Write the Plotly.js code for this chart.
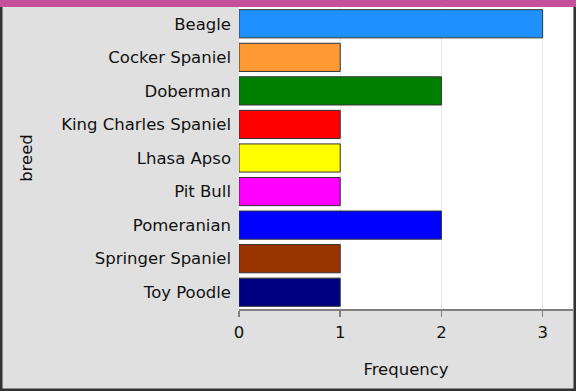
<!DOCTYPE html>
<html><head><meta charset="utf-8">
<script src="https://cdn.plot.ly/plotly-3.0.1.min.js"></script>
<style>html,body{margin:0;padding:0;background:#e0e0e0;}#chart{width:576px;height:391px;}</style>
</head><body><div id="chart"></div>
<script>
const breeds = ["Beagle","Cocker Spaniel","Doberman","King Charles Spaniel","Lhasa Apso","Pit Bull","Pomeranian","Springer Spaniel","Toy Poodle"];
const frequency = [3,1,2,1,1,1,2,1,1];
const barColors = ["#1E90FF","#FF9933","#008000","#FF0000","#FFFF00","#FF00FF","#0000FF","#993300","#000080"];
const xTicks = [0,1,2,3];

const trace = {
  type: "bar", orientation: "h",
  x: frequency, y: breeds,
  width: 0.84,
  marker: {color: barColors, line: {color: "#333333", width: 1}},
  hoverinfo: "none"
};
const layout = {
  width: 576, height: 391,
  margin: {l: 239, r: 3, t: 7, b: 82},
  paper_bgcolor: "#e0e0e0", plot_bgcolor: "#ffffff",
  font: {family: "DejaVu Sans", size: 16.5, color: "#111111"},
  showlegend: false,
  xaxis: {
    range: [0, 3.3], tickvals: xTicks, ticktext: xTicks.map(String),
    ticks: "outside", ticklen: 6, tickcolor: "#808080", tickwidth: 1.5,
    showline: true, linecolor: "#808080", linewidth: 1.5,
    showgrid: true, gridcolor: "#e6e6e6", gridwidth: 1, zeroline: false,
    ticklabelstandoff: 2,
    tickfont: {size: 16.5},
    title: {text: "Frequency", font: {size: 16.5}, standoff: 22}
  },
  yaxis: {
    autorange: false, range: [8.5, -0.5], type: "category",
    showgrid: false, zeroline: false, showline: false, ticks: "",
    ticklabelstandoff: 7,
    tickfont: {size: 16.5},
    title: {text: "breed", font: {size: 16.5}, standoff: 24}
  },
  shapes: [
    {type: "rect", xref: "paper", yref: "paper", x0: -239/334, x1: 1 + 3/334, y0: 1, y1: 1 + 7/302, fillcolor: "#C4509C", line: {width: 0}, layer: "above"},
    {type: "line", xref: "paper", yref: "paper", x0: -238/334, x1: -238/334, y0: -82/302, y1: 1, line: {color: "#333333", width: 3}},
    {type: "line", xref: "paper", yref: "paper", x0: 1 + 2/334, x1: 1 + 2/334, y0: -82/302, y1: 1, line: {color: "#333333", width: 3}},
    {type: "line", xref: "paper", yref: "paper", x0: -239/334, x1: 1 + 3/334, y0: -81/302, y1: -81/302, line: {color: "#333333", width: 3}}
  ]
};
Plotly.newPlot("chart", [trace], layout, {staticPlot: true, displayModeBar: false});
</script></body></html>
